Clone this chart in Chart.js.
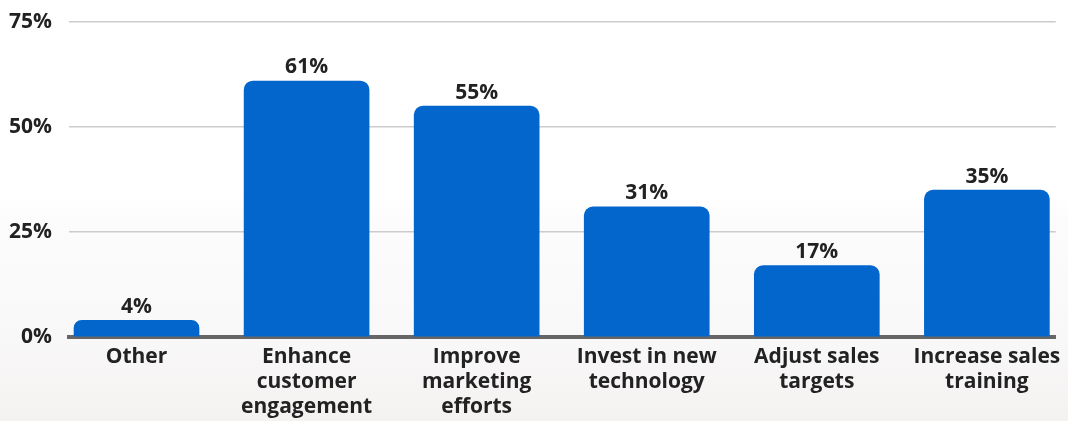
<!DOCTYPE html>
<html>
<head>
<meta charset="utf-8">
<script src="https://cdn.jsdelivr.net/npm/chart.js@4"></script>
<style>
  html, body { margin: 0; padding: 0; }
  body {
    width: 1068px; height: 421px; overflow: hidden;
    background: linear-gradient(180deg, #ffffff 0%, #ffffff 46%, #fcfcfc 52%, #f9f8f8 80%, #f4f2f1 100%);
  }
  #wrap { position: relative; width: 1068px; height: 421px; }
</style>
</head>
<body>
<div id="wrap"><canvas id="chart" width="1068" height="421"></canvas></div>
<script>
// Survey answers: share of respondents per planned action
const categories = [
  ['Other'],
  ['Enhance', 'customer', 'engagement'],
  ['Improve', 'marketing', 'efforts'],
  ['Invest in new', 'technology'],
  ['Adjust sales', 'targets'],
  ['Increase sales', 'training']
];
const shares = [4, 61, 55, 31, 17, 35];
const yTicks = [0, 25, 50, 75];

const FONT = '"Open Sans", "Noto Sans", sans-serif';
const TEXT = '#222222';

// value labels above each bar
const valueLabels = {
  id: 'valueLabels',
  afterDatasetsDraw(chart) {
    const ctx = chart.ctx;
    const meta = chart.getDatasetMeta(0);
    ctx.save();
    ctx.font = 'bold 21px ' + FONT;
    ctx.fillStyle = TEXT;
    ctx.textAlign = 'center';
    ctx.textBaseline = 'bottom';
    meta.data.forEach((bar, i) => {
      ctx.fillText(shares[i] + '%', bar.x, bar.y - 3);
    });
    ctx.restore();
  }
};

new Chart(document.getElementById('chart'), {
  type: 'bar',
  data: {
    datasets: [{
      data: shares.map((v, i) => ({ x: i, y: v })),
      backgroundColor: '#0366cc',
      borderRadius: 9,
      borderSkipped: 'start',
      barThickness: 125
    }]
  },
  options: {
    responsive: false,
    animation: false,
    events: [],
    layout: { padding: { top: 18, right: 10, left: 0, bottom: 0 } },
    plugins: { legend: { display: false }, tooltip: { enabled: false } },
    scales: {
      x: {
        type: 'linear',
        bounds: 'data',
        offset: false,
        min: -0.397,
        max: 5.405,
        z: 1,
        afterFit(scale) { scale.height = 84; },
        afterBuildTicks(scale) { scale.ticks = categories.map((c, i) => ({ value: i })); },
        grid: { display: true, color: 'transparent', drawTicks: false },
        border: { display: true, color: '#666666', width: 4 },
        ticks: {
          autoSkip: false,
          maxRotation: 0,
          padding: 7,
          color: TEXT,
          font: { family: FONT, size: 21, weight: 'bold', lineHeight: 1.2 },
          callback: (v) => (Number.isInteger(v) && categories[v]) ? categories[v] : ''
        }
      },
      y: {
        min: 0,
        max: 76,
        afterFit(scale) {
          scale.width = 69;
          scale.paddingTop = 0;
          scale.paddingBottom = 0;
        },
        afterBuildTicks(scale) { scale.ticks = yTicks.map(v => ({ value: v })); },
        grid: { color: '#cccccc', lineWidth: 1.5, drawTicks: false },
        border: { display: false },
        ticks: {
          padding: 17,
          color: TEXT,
          font: { family: FONT, size: 21, weight: 'bold' },
          callback: (v) => v + '%'
        }
      }
    }
  },
  plugins: [valueLabels]
});
</script>
</body>
</html>
